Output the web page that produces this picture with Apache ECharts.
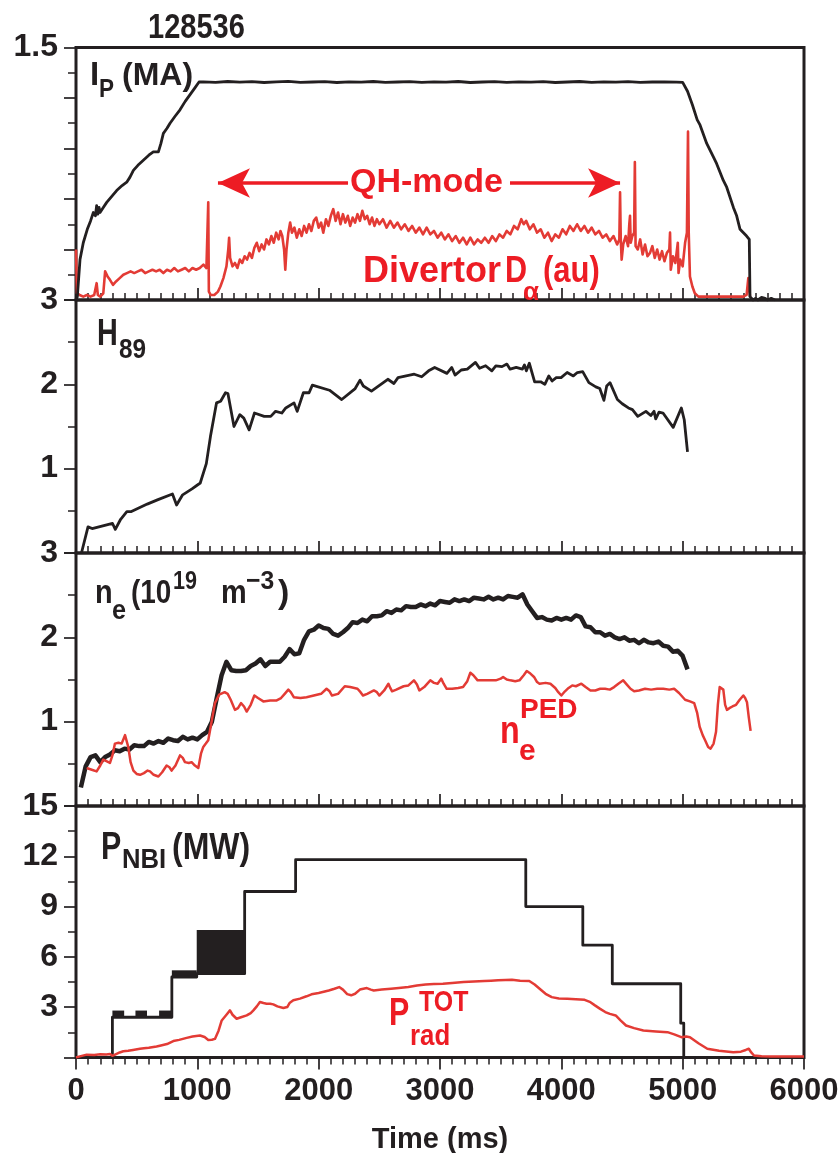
<!DOCTYPE html>
<html><head><meta charset="utf-8">
<script src="https://cdn.jsdelivr.net/npm/echarts@6/dist/echarts.min.js"></script>
<style>html,body{margin:0;padding:0;background:#fff}#c{width:840px;height:1153px}</style>
</head><body><div id="c"></div>
<script>
// ---------- data ----------
const shotNumber = '128536';
const xTicks = [0,1000,2000,3000,4000,5000,6000];

const ipData = [[0,0],[11,0.02],[33,0.24],[60,0.34],[93,0.42],[120,0.47],[143,0.52],[160,0.5],[170,0.56],[180,0.51],[190,0.55],[198,0.52],[225,0.55],[253,0.58],[300,0.62],[335,0.65],[380,0.68],[418,0.7],[445,0.73],[473,0.77],[510,0.8],[555,0.83],[600,0.86],[637,0.88],[679,0.88],[700,0.93],[720,0.99],[750,1.02],[775,1.05],[815,1.09],[857,1.13],[900,1.18],[940,1.22],[980,1.26],[1014,1.295],
[1050,1.296],[1150,1.293],[1250,1.298],[1350,1.294],[1450,1.297],[1550,1.292],[1650,1.296],[1750,1.299],[1850,1.293],[1950,1.295],[2050,1.297],[2150,1.292],[2250,1.296],[2350,1.294],[2450,1.298],[2550,1.293],[2650,1.295],[2750,1.297],[2850,1.293],[2950,1.296],[3050,1.294],[3150,1.298],[3250,1.292],[3350,1.295],[3450,1.297],[3550,1.293],[3650,1.296],[3750,1.294],[3850,1.297],[3950,1.292],[4050,1.295],[4150,1.298],[4250,1.293],[4350,1.296],[4450,1.294],[4550,1.297],[4650,1.293],[4750,1.295],[4850,1.296],[4950,1.294],
[5000,1.293],[5040,1.24],[5080,1.16],[5120,1.07],[5143,1.04],[5198,0.93],[5253,0.85],[5280,0.81],[5335,0.71],[5363,0.67],[5418,0.55],[5445,0.5],[5473,0.42],[5527,0.38],[5541,0.37],[5549,0.36],[5555,0.02],[5580,0],[5600,0.01],[5620,0],[5650,0.015],[5680,0.01],[5700,0],[5730,0.01],[5760,0]];

const dalphaData = [[0,0.3],[8,0.04],[30,0.03],[60,0.02],[90,0.03],[120,0.02],[150,0.03],[170,0.1],[180,0.03],[200,0.02],[225,0.04],[240,0.17],[260,0.14],[280,0.12],[305,0.09],[330,0.11],[360,0.13],[390,0.15],[420,0.16],[450,0.17],[480,0.16],[510,0.17],[540,0.18],[570,0.16],[600,0.17],[630,0.18],[660,0.17],[690,0.18],[720,0.16],[750,0.18],[780,0.17],[810,0.19],[840,0.17],[870,0.18],[900,0.19],[930,0.17],[960,0.19],[990,0.18],[1020,0.19],[1050,0.21],[1075,0.19],[1085,0.18],[1090,0.58],[1095,0.05],[1110,0.03],[1140,0.03],[1170,0.05],[1190,0.08],[1215,0.13],[1240,0.2],[1255,0.3],[1262,0.37],[1270,0.25],[1290,0.2],[1310,0.22],[1330,0.19],[1350,0.24],[1370,0.22],[1390,0.26],[1410,0.24],[1430,0.28],[1450,0.25],[1470,0.31],[1490,0.34],[1510,0.29],[1530,0.33],[1550,0.3],[1570,0.36],[1590,0.33],[1610,0.38],[1630,0.34],[1650,0.4],[1670,0.36],[1685,0.41],[1700,0.38],[1715,0.3],[1725,0.18],[1735,0.3],[1750,0.4],[1765,0.46],[1780,0.4],[1800,0.43],[1820,0.37],[1840,0.42],[1860,0.38],[1880,0.44],[1900,0.4],[1920,0.45],[1940,0.41],[1960,0.47],[1980,0.49],[2000,0.43],[2020,0.46],[2038,0.4],[2060,0.48],[2080,0.44],[2100,0.5],[2120,0.54],[2140,0.47],[2160,0.52],[2180,0.45],[2200,0.51],[2220,0.46],[2240,0.5],[2260,0.44],[2280,0.49],[2300,0.46],[2320,0.51],[2340,0.47],[2360,0.53],[2380,0.48],[2400,0.5],[2420,0.45],[2440,0.49],[2460,0.44],[2480,0.48],[2500,0.45],[2530,0.48],[2560,0.43],[2590,0.47],[2620,0.43],[2650,0.46],[2680,0.42],[2710,0.45],[2740,0.41],[2770,0.44],[2800,0.4],[2830,0.43],[2860,0.39],[2890,0.43],[2920,0.39],[2950,0.41],[2980,0.37],[3010,0.4],[3040,0.36],[3070,0.39],[3100,0.35],[3130,0.38],[3160,0.34],[3190,0.37],[3220,0.33],[3250,0.37],[3280,0.33],[3310,0.36],[3340,0.34],[3370,0.37],[3400,0.34],[3430,0.38],[3460,0.35],[3490,0.39],[3520,0.37],[3550,0.41],[3580,0.39],[3610,0.44],[3640,0.42],[3670,0.48],[3690,0.45],[3710,0.47],[3740,0.42],[3770,0.45],[3800,0.4],[3830,0.42],[3860,0.37],[3890,0.4],[3920,0.35],[3950,0.39],[3980,0.37],[4010,0.42],[4040,0.39],[4070,0.44],[4100,0.41],[4130,0.45],[4160,0.41],[4190,0.44],[4220,0.4],[4250,0.43],[4280,0.39],[4310,0.41],[4340,0.37],[4370,0.39],[4400,0.35],[4430,0.38],[4460,0.33],[4478,0.36],[4484,0.64],[4490,0.36],[4497,0.24],[4510,0.33],[4530,0.38],[4550,0.32],[4560,0.45],[4566,0.5],[4572,0.34],[4585,0.38],[4600,0.4],[4606,0.82],[4612,0.32],[4630,0.3],[4650,0.36],[4670,0.27],[4690,0.33],[4710,0.26],[4731,0.28],[4750,0.32],[4770,0.25],[4790,0.3],[4810,0.24],[4830,0.29],[4850,0.23],[4870,0.28],[4890,0.3],[4896,0.4],[4902,0.18],[4920,0.26],[4940,0.22],[4960,0.34],[4966,0.16],[4980,0.24],[5000,0.2],[5020,0.34],[5035,0.4],[5044,1.0],[5050,0.4],[5060,0.14],[5080,0.08],[5100,0.04],[5130,0.02],[5200,0.02],[5300,0.02],[5400,0.02],[5500,0.02],[5527,0.03],[5541,0.13],[5552,0.14],[5555,0.02]];

const qhArrowLeft = [[2242,0.695],[1170,0.695]];
const qhArrowRight = [[3577,0.695],[4484,0.695]];

const h89Data = [[45,0],[99,0.31],[133,0.29],[301,0.35],[324,0.28],[368,0.4],[419,0.49],[452,0.49],[587,0.58],[671,0.63],[795,0.7],[829,0.57],[879,0.69],[956,0.76],[1024,0.83],[1074,1.06],[1108,1.38],[1158,1.78],[1192,1.8],[1232,1.9],[1252,1.89],[1302,1.5],[1350,1.64],[1383,1.6],[1427,1.46],[1471,1.66],[1551,1.62],[1605,1.62],[1645,1.68],[1696,1.66],[1729,1.72],[1797,1.78],[1823,1.68],[1874,1.9],[1921,1.9],[1948,1.99],[2089,1.93],[2190,1.82],[2301,1.95],[2341,2.05],[2368,1.98],[2435,1.92],[2570,2.06],[2620,2.01],[2654,2.08],[2788,2.12],[2849,2.09],[2906,2.16],[2956,2.2],[3057,2.13],[3097,2.2],[3124,2.11],[3175,2.17],[3225,2.18],[3292,2.26],[3326,2.19],[3376,2.22],[3427,2.16],[3460,2.22],[3511,2.21],[3551,2.24],[3578,2.18],[3628,2.2],[3679,2.18],[3696,2.23],[3712,2.16],[3736,2.25],[3780,2.03],[3830,2.03],[3864,2.0],[3897,2.1],[3924,2.04],[3958,2.08],[3998,2.08],[4048,2.14],[4099,2.1],[4132,2.14],[4176,2.15],[4227,2.02],[4284,1.97],[4317,1.95],[4351,1.81],[4374,1.98],[4401,2.02],[4462,1.82],[4502,1.77],[4553,1.72],[4586,1.7],[4630,1.62],[4697,1.68],[4737,1.63],[4764,1.68],[4778,1.59],[4805,1.67],[4838,1.66],[4922,1.49],[4989,1.72],[5013,1.58],[5040,1.2]];

const neStart = 40, neStep = 40;
const neValues = [0.22,0.47,0.58,0.6,0.52,0.58,0.61,0.66,0.65,0.68,0.67,0.72,0.71,0.71,0.76,0.74,0.77,0.75,0.8,0.78,0.77,0.82,0.79,0.81,0.79,0.84,0.88,1.0,1.28,1.55,1.71,1.61,1.6,1.6,1.61,1.66,1.69,1.74,1.66,1.71,1.71,1.71,1.77,1.86,1.8,1.81,1.97,2.07,2.09,2.14,2.11,2.1,2.04,2.02,2.06,2.11,2.18,2.17,2.21,2.19,2.25,2.25,2.26,2.31,2.29,2.33,2.32,2.37,2.36,2.36,2.39,2.37,2.4,2.38,2.43,2.42,2.41,2.45,2.43,2.45,2.43,2.47,2.46,2.45,2.48,2.45,2.47,2.45,2.49,2.48,2.47,2.51,2.39,2.31,2.23,2.24,2.21,2.2,2.23,2.21,2.23,2.21,2.26,2.24,2.13,2.12,2.06,2.06,2.02,2.04,2.0,1.98,2.0,1.96,1.97,1.93,1.97,1.94,1.93,1.95,1.9,1.89,1.83,1.84,1.78,1.62];

const nePedData = [[88,0.45],[130,0.43],[170,0.41],[200,0.48],[225,0.55],[255,0.53],[280,0.51],[300,0.6],[321,0.74],[350,0.75],[376,0.74],[404,0.84],[420,0.82],[431,0.7],[450,0.52],[473,0.42],[500,0.38],[528,0.37],[560,0.39],[590,0.42],[610,0.41],[640,0.37],[679,0.35],[710,0.4],[747,0.48],[770,0.46],[788,0.42],[820,0.48],[857,0.6],[880,0.57],[898,0.52],[930,0.51],[953,0.52],[980,0.48],[1008,0.45],[1030,0.62],[1049,0.7],[1070,0.74],[1090,0.78],[1120,1.02],[1145,1.22],[1180,1.32],[1225,1.35],[1250,1.33],[1275,1.26],[1310,1.14],[1335,1.16],[1360,1.22],[1385,1.18],[1407,1.12],[1440,1.2],[1470,1.31],[1500,1.28],[1544,1.24],[1600,1.25],[1650,1.25],[1690,1.28],[1720,1.33],[1750,1.38],[1770,1.35],[1795,1.29],[1850,1.28],[1900,1.29],[1960,1.31],[2020,1.33],[2065,1.39],[2090,1.36],[2110,1.31],[2160,1.33],[2215,1.42],[2260,1.41],[2320,1.39],[2345,1.35],[2365,1.31],[2400,1.33],[2455,1.37],[2480,1.35],[2500,1.31],[2540,1.37],[2575,1.45],[2590,1.4],[2605,1.36],[2640,1.38],[2700,1.42],[2740,1.43],[2785,1.49],[2810,1.44],[2830,1.37],[2870,1.41],[2920,1.49],[2950,1.46],[2980,1.45],[3010,1.51],[3030,1.45],[3055,1.39],[3100,1.39],[3150,1.4],[3190,1.41],[3225,1.48],[3250,1.58],[3275,1.55],[3310,1.49],[3380,1.49],[3460,1.49],[3500,1.51],[3520,1.53],[3550,1.5],[3580,1.49],[3620,1.48],[3655,1.49],[3690,1.55],[3715,1.6],[3745,1.57],[3775,1.53],[3800,1.47],[3820,1.45],[3870,1.46],[3910,1.45],[3950,1.4],[3975,1.35],[4000,1.31],[4030,1.36],[4060,1.4],[4090,1.43],[4120,1.42],[4165,1.45],[4200,1.41],[4240,1.37],[4280,1.37],[4320,1.39],[4360,1.39],[4400,1.38],[4435,1.41],[4470,1.45],[4510,1.49],[4540,1.44],[4570,1.39],[4600,1.36],[4640,1.37],[4690,1.39],[4740,1.38],[4790,1.39],[4840,1.39],[4890,1.38],[4930,1.39],[4970,1.34],[5020,1.26],[5060,1.24],[5095,1.22],[5120,1.1],[5140,0.94],[5165,0.84],[5185,0.78],[5210,0.7],[5230,0.68],[5255,0.74],[5275,0.88],[5290,1.2],[5305,1.41],[5320,1.43],[5335,1.38],[5350,1.2],[5365,1.14],[5385,1.16],[5410,1.18],[5440,1.2],[5470,1.26],[5500,1.31],[5515,1.28],[5530,1.23],[5545,1.05],[5560,0.89]];

const pnbiData = [[0,0],[300,0],[300,2.4],[790,2.4],[790,4.8],[995,4.8],[995,5.0],[1390,5.0],[1390,9.9],[1810,9.9],[1810,11.8],[3707,11.8],[3707,9.0],[4177,9.0],[4177,6.7],[4420,6.7],[4420,4.4],[4984,4.4],[4984,2.05],[5009,2.05],[5009,0]];
// modulated-beam bands: [tStart, tEnd, low, high]
const pnbiBands = [[300,397,2.4,2.8],[490,585,2.4,2.8],[685,790,2.4,2.8],[790,995,4.8,5.2],[995,1390,5.0,7.6]];

const pradData = [[0,0],[40,0.08],[88,0.17],[150,0.15],[200,0.2],[250,0.18],[280,0.21],[300,0.1],[308,0.02],[330,0.2],[360,0.3],[390,0.37],[430,0.4],[470,0.45],[527,0.52],[560,0.55],[600,0.58],[664,0.66],[700,0.72],[750,0.8],[802,0.98],[850,1.05],[912,1.17],[960,1.25],[1022,1.31],[1060,1.22],[1090,1.05],[1120,1.06],[1145,1.11],[1175,1.6],[1201,2.21],[1240,2.55],[1269,2.81],[1290,2.55],[1324,2.31],[1360,2.4],[1407,2.51],[1440,2.65],[1462,2.81],[1490,3.05],[1516,3.31],[1545,3.25],[1571,3.21],[1600,3.21],[1626,3.17],[1660,3.05],[1709,2.95],[1741,3.01],[1760,3.25],[1791,3.41],[1846,3.51],[1900,3.65],[1941,3.77],[2000,3.85],[2083,4.0],[2130,4.1],[2169,4.2],[2200,4.05],[2235,3.78],[2268,3.71],[2300,3.8],[2340,4.05],[2397,4.14],[2430,4.05],[2454,4.0],[2520,4.05],[2596,4.1],[2660,4.15],[2739,4.2],[2810,4.3],[2881,4.36],[2950,4.38],[3024,4.4],[3100,4.45],[3194,4.5],[3280,4.53],[3365,4.56],[3420,4.58],[3479,4.6],[3540,4.62],[3593,4.64],[3660,4.58],[3736,4.56],[3780,4.35],[3821,4.1],[3870,3.8],[3921,3.6],[3980,3.52],[4049,3.5],[4120,3.48],[4192,3.44],[4240,3.3],[4277,3.11],[4320,2.9],[4362,2.71],[4400,2.6],[4448,2.51],[4490,2.2],[4533,1.91],[4600,1.75],[4676,1.61],[4780,1.55],[4875,1.51],[4930,1.38],[4989,1.21],[5030,1.25],[5060,1.21],[5130,0.85],[5203,0.52],[5300,0.4],[5417,0.32],[5480,0.35],[5520,0.45],[5545,0.52],[5565,0.3],[5588,0.12],[5650,0.07],[5730,0.06],[5850,0.06],[6000,0.06]];

// ---------- styling ----------
const FONT = "'Liberation Sans',Arial,Helvetica,sans-serif";
const BLACK = '#231f20';
const RED = '#e33b35';
const TRED = '#ed1c24';

const neData = neValues.map((v, i) => [neStart + i * neStep, v]);

const panels = [
  {top: 47.5, height: 252.5, max: 1.5, interval: 0.3, show: v => Math.abs(v - 1.5) < 1e-6},
  {top: 300, height: 253, max: 3, interval: 1, show: v => v > 0},
  {top: 553, height: 253, max: 3, interval: 1, show: v => v > 0},
  {top: 806, height: 251.5, max: 15, interval: 3, show: v => v > 0}
];

const grid = panels.map(p => ({left: 76, right: 36, top: p.top, height: p.height, show: true,
  borderColor: BLACK, borderWidth: 3, backgroundColor: 'transparent', containLabel: false,
  outerBoundsMode: 'none'}));

const xAxis = panels.map((p, i) => ({
  type: 'value', gridIndex: i, min: 0, max: 6000, interval: 1000,
  axisLine: {show: false},
  axisTick: {show: true, inside: i < 3, length: 12, lineStyle: {color: BLACK, width: 1.7}},
  minorTick: {show: true, splitNumber: 10, length: 7, lineStyle: {color: BLACK, width: 1.5}},
  splitLine: {show: false}, minorSplitLine: {show: false},
  axisLabel: {show: i === 3, margin: 18, color: BLACK, fontFamily: FONT, fontWeight: 'bold', fontSize: 31,
    formatter: v => xTicks.includes(v) ? String(v) : ''},
  name: i === 3 ? 'Time (ms)' : '', nameLocation: 'middle', nameGap: 68,
  nameTextStyle: {color: BLACK, fontFamily: FONT, fontWeight: 'bold', fontSize: 29}
}));

const yAxis = panels.map((p, i) => ({
  type: 'value', gridIndex: i, min: 0, max: p.max, interval: p.interval,
  axisLine: {show: false},
  axisTick: {show: true, inside: false, length: 12, lineStyle: {color: BLACK, width: 1.7}},
  minorTick: {show: true, splitNumber: 2, length: 8, lineStyle: {color: BLACK, width: 1.5}},
  splitLine: {show: false}, minorSplitLine: {show: false},
  axisLabel: {margin: 18, color: BLACK, fontFamily: FONT, fontWeight: 'bold', fontSize: 32,
    formatter: v => p.show(v) ? String(+v.toFixed(1)) : ''}
}));

function lineSeries(data, xi, color, width, z) {
  return {type: 'line', xAxisIndex: xi, yAxisIndex: xi, data: data, showSymbol: false, symbol: 'none',
    lineStyle: {color: color, width: width, join: 'round'}, animation: false, silent: true, z: z || 2, clip: true};
}

const arrowSeries = {
  type: 'line', xAxisIndex: 0, yAxisIndex: 0, data: [], silent: true, animation: false,
  markLine: {
    silent: true, animation: false, symbol: ['none', 'arrow'], symbolSize: [22, 32],
    label: {show: false}, lineStyle: {color: TRED, width: 3.5, type: 'solid'},
    data: [
      [{coord: qhArrowLeft[0]}, {coord: qhArrowLeft[1]}],
      [{coord: qhArrowRight[0]}, {coord: qhArrowRight[1]}]
    ]
  }
};

const bandSeries = {
  type: 'custom', xAxisIndex: 3, yAxisIndex: 3, data: pnbiBands, animation: false, silent: true,
  encode: {x: [0, 1], y: [2, 3]},
  renderItem: function (params, api) {
    const a = api.coord([api.value(0), api.value(3)]);
    const b = api.coord([api.value(1), api.value(2)]);
    return {type: 'rect', shape: {x: a[0], y: a[1], width: b[0] - a[0], height: b[1] - a[1]},
      style: {fill: BLACK}};
  }
};

function txt(text, x, y, size, color, sx) {
  return {type: 'text', x: x, y: y, scaleX: sx || 1, silent: true, z: 100,
    style: {text: text, x: 0, y: 0, fill: color || BLACK, font: 'bold ' + size + 'px ' + FONT,
      textAlign: 'left', textVerticalAlign: 'middle', verticalAlign: 'middle'}};
}

const graphics = [
  txt(shotNumber, 148, 28, 35, BLACK, 0.83),
  txt('I', 90, 76, 33), txt('P', 99, 90, 25, BLACK, 0.9), txt('(MA)', 122, 76, 32),
  txt('H', 97, 335, 36, BLACK, 0.8), txt('89', 119, 350, 28, BLACK, 0.87),
  txt('n', 95, 594, 34, BLACK, 0.85), txt('e', 112, 611, 28, BLACK, 0.9), txt('(10', 131, 594, 34, BLACK, 0.82),
  txt('19', 173, 582, 26, BLACK, 0.83), txt('m', 221, 594, 34, BLACK, 0.85), txt('\u22123', 246, 582, 26, BLACK, 0.95),
  txt(')', 278, 594, 34),
  txt('P', 101, 849, 38, BLACK, 0.8), txt('NBI', 122, 861, 27, BLACK, 0.95), txt('(MW)', 172, 849, 36, BLACK, 0.89),
  txt('QH-mode', 350, 183, 34, TRED),
  txt('Divertor', 363, 272, 36, TRED), txt('D', 505, 272, 36, TRED, 0.85), txt('\u03b1', 523, 293, 26, TRED),
  txt('(au)', 543, 272, 36, TRED, 0.86),
  txt('n', 500, 733, 38, TRED, 0.85), txt('e', 519, 752, 30, TRED), txt('PED', 520, 710, 28, TRED),
  txt('P', 389, 1015, 38, TRED, 0.8), txt('TOT', 419, 1003, 30, TRED, 0.83), txt('rad', 410, 1037, 30, TRED, 0.86)
];

const chart = echarts.init(document.getElementById('c'), null, {renderer: 'canvas'});
chart.setOption({
  animation: false,
  backgroundColor: '#fff',
  grid: grid, xAxis: xAxis, yAxis: yAxis,
  series: [
    lineSeries(dalphaData, 0, RED, 2.6, 2),
    lineSeries(ipData, 0, BLACK, 2.8, 3),
    arrowSeries,
    lineSeries(h89Data, 1, BLACK, 2.8, 3),
    lineSeries(neData, 2, BLACK, 4.5, 3),
    lineSeries(nePedData, 2, RED, 2.5, 4),
    bandSeries,
    lineSeries(pnbiData, 3, BLACK, 2.8, 3),
    lineSeries(pradData, 3, RED, 2.5, 4)
  ],
  graphic: graphics
});
</script></body></html>
